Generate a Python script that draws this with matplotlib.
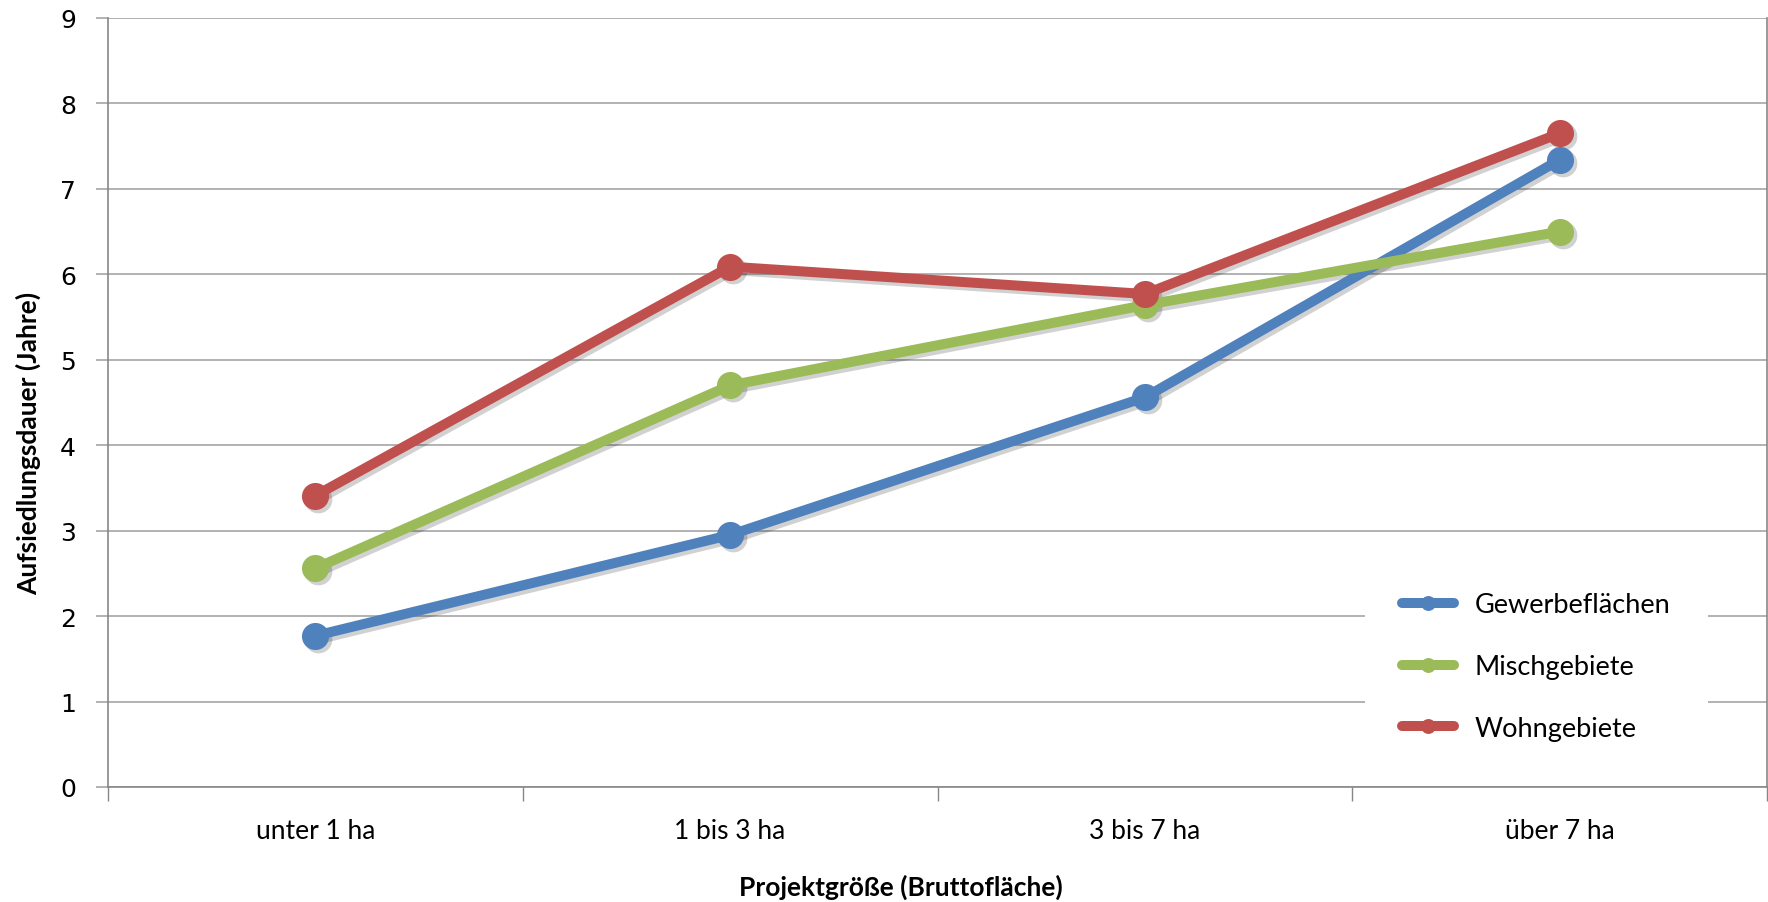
import matplotlib
matplotlib.use("Agg")
from matplotlib import pyplot as plt
from matplotlib.transforms import ScaledTranslation
from matplotlib.ticker import FixedLocator

# Aufsiedlungsdauer nach Projektgröße
categories = ["unter 1 ha", "1 bis 3 ha", "3 bis 7 ha", "über 7 ha"]
gewerbe = [1.77, 2.95, 4.56, 7.34]
misch = [2.56, 4.70, 5.64, 6.50]
wohnen = [3.41, 6.09, 5.77, 7.65]
y_ticks = list(range(0, 10))

series = [
    ("Gewerbeflächen", gewerbe, "#4F81BD"),
    ("Mischgebiete", misch, "#9BBB59"),
    ("Wohngebiete", wohnen, "#C0504D"),
]

label_font = ["Lato", "DejaVu Sans"]
grid_col = "#A6A6A6"
axis_col = "#878787"

fig = plt.figure(figsize=(17.68, 9.03), dpi=100)
ax = fig.add_axes([108/1768, 1 - 788/903, (1767 - 108)/1768, (788 - 19)/903])

xs = list(range(len(categories)))
# soft drop shadow: same line shifted down-right, drawn first
shift = ax.transData + ScaledTranslation(3/100, -3/100, fig.dpi_scale_trans)
for name, vals, col in series:
    ax.plot(xs, vals, color="k", alpha=0.18, lw=8, marker="o", markersize=20,
            markeredgewidth=0, solid_capstyle="round", transform=shift, zorder=2)
for name, vals, col in series:
    ax.plot(xs, vals, color=col, lw=7.2, marker="o", markersize=19.5,
            markeredgewidth=0, solid_capstyle="round", label=name, zorder=3)

ax.set_xlim(-0.5, len(categories) - 0.5)
ax.set_ylim(0, 9)

# categories sit between tick marks, as in the office chart
ax.set_xticks(xs)
ax.set_xticklabels(categories, family=label_font, fontsize=19)
ax.xaxis.set_minor_locator(FixedLocator([x - 0.5 for x in range(len(categories) + 1)]))
ax.tick_params(axis="x", which="major", length=0, pad=22)
ax.tick_params(axis="x", which="minor", length=10, color=axis_col, width=1)

ax.set_yticks(y_ticks)
ax.set_yticklabels([str(t) for t in y_ticks], family="DejaVu Sans", fontsize=18)
ax.tick_params(axis="y", length=9, color=grid_col, width=1.2, pad=14)

ax.grid(axis="y", color=grid_col, lw=1.2, zorder=0)
ax.set_axisbelow(True)
ax.spines["top"].set_visible(False)
for side in ("left", "bottom", "right"):
    ax.spines[side].set_color(axis_col)
    ax.spines[side].set_linewidth(1.2)

fig.text(28/1768, 1 - 443/903, "Aufsiedlungsdauer (Jahre)", rotation=90,
         ha="center", va="center", family=label_font, fontsize=19, fontweight="bold")
fig.text(901/1768, 1 - 887/903, "Projektgröße (Bruttofläche)",
         ha="center", va="center", family=label_font, fontsize=19, fontweight="bold")

leg = ax.legend(loc="upper left", bbox_to_anchor=(1351/1768, 1 - 542/903),
                bbox_transform=fig.transFigure, prop={"family": label_font, "size": 19.5},
                frameon=True, fancybox=False, borderpad=1.4, handlelength=1.9,
                handletextpad=0.77, labelspacing=1.35, markerscale=0.55)
leg.get_frame().set_facecolor("white")
leg.get_frame().set_edgecolor("none")
leg.get_frame().set_alpha(1)
# keep the white box over the gridlines but under the axis lines
leg.set_zorder(2.4)

fig.savefig("out.png", dpi=100, facecolor="white")
